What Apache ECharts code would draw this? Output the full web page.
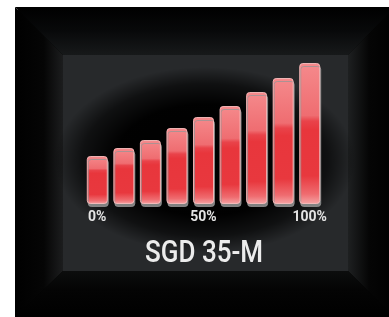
<!DOCTYPE html>
<html>
<head>
<meta charset="utf-8">
<script src="https://cdn.jsdelivr.net/npm/echarts@6/dist/echarts.min.js"></script>
<style>
  html, body { margin: 0; padding: 0; background: #fff; }
  #renderChart { width: 389px; height: 317px; }
</style>
</head>
<body>
<div id="renderChart"></div>
<script>
// levels shown on the display
const categories = ['0%', '12.5%', '25%', '37.5%', '50%', '62.5%', '75%', '87.5%', '100%'];
const barValues = [48, 56, 64, 76, 87, 98, 112, 126, 141];
const titleText = 'SGD 35-M';

const labelFont = 'Roboto, "DejaVu Sans", sans-serif';

const myChart = echarts.init(document.getElementById('renderChart'));

// red glossy fill, the gloss line sits a bit lower on the taller bars
function barFill(i) {
  const g = 0.3 + i * 0.014;
  return new echarts.graphic.LinearGradient(0, 0, 0, 1, [
    { offset: 0, color: '#f58a8c' },
    { offset: g - 0.04, color: '#ef6d71' },
    { offset: g, color: '#e9434a' },
    { offset: g + 0.06, color: '#e8363c' },
    { offset: 0.8, color: '#e8383e' },
    { offset: 0.93, color: '#ef6c70' },
    { offset: 1, color: '#f5a5a6' }
  ]);
}

const option = {
  backgroundColor: '#ffffff',
  animation: false,
  graphic: [
    // outer black case
    { type: 'rect', z: -10, shape: { x: 15, y: 7, width: 390, height: 320, r: 11 }, style: { fill: '#000' } },
    // left bevel
    { type: 'polygon', z: -9, shape: { points: [[15, 7], [63, 55], [63, 271], [15, 317]] },
      style: { fill: new echarts.graphic.LinearGradient(0, 0, 1, 0, [
        { offset: 0, color: '#000' }, { offset: 0.6, color: '#050505' }, { offset: 1, color: '#1c1d1e' }]) } },
    // top bevel
    { type: 'polygon', z: -9, shape: { points: [[15, 7], [395, 7], [348, 55], [63, 55]] },
      style: { fill: new echarts.graphic.LinearGradient(0, 0, 0, 1, [
        { offset: 0, color: '#000' }, { offset: 0.5, color: '#08090a' }, { offset: 1, color: '#17191a' }]) } },
    // right bevel
    { type: 'polygon', z: -9, shape: { points: [[395, 7], [395, 317], [348, 271], [348, 55]] },
      style: { fill: new echarts.graphic.LinearGradient(1, 0, 0, 0, [
        { offset: 0, color: '#000' }, { offset: 0.55, color: '#050505' }, { offset: 1, color: '#1e2021' }]) } },
    // bottom bevel
    { type: 'polygon', z: -9, shape: { points: [[15, 317], [63, 271], [348, 271], [395, 317]] },
      style: { fill: new echarts.graphic.LinearGradient(0, 1, 0, 0, [
        { offset: 0, color: '#000' }, { offset: 0.6, color: '#040404' }, { offset: 1, color: '#0c0d0d' }]) } },
    // screen
    { type: 'rect', z: -8, shape: { x: 63, y: 55, width: 285, height: 216 },
      style: { fill: '#27292b' } },
    // soft dark glow behind bars
    { type: 'circle', z: -7, shape: { cx: 205, cy: 160, r: 150 },
      scaleY: 0.62, originX: 205, originY: 160,
      style: { fill: new echarts.graphic.RadialGradient(0.5, 0.5, 0.5, [
        { offset: 0, color: 'rgba(0,0,0,1)' },
        { offset: 0.6, color: 'rgba(0,0,0,0.97)' },
        { offset: 0.82, color: 'rgba(0,0,0,0.6)' },
        { offset: 1, color: 'rgba(0,0,0,0)' }]) } },
    // title
    { type: 'text', z: 5, x: 204, y: 254, scaleX: 0.84, originX: 0, originY: 0,
      style: { text: titleText, fill: '#ececec', align: 'center', verticalAlign: 'middle',
        font: '500 31px ' + labelFont } }
  ],
  grid: { left: 84, right: 66, top: 54, bottom: 113 },
  xAxis: {
    type: 'category',
    data: categories,
    axisLine: { show: false },
    axisTick: { show: false },
    axisLabel: {
      interval: 3,
      margin: 6,
      color: '#e4e4e4',
      fontSize: 14,
      fontWeight: 'bold',
      fontFamily: labelFont
    }
  },
  yAxis: {
    type: 'value',
    min: 0,
    max: 150,
    show: false,
    splitLine: { show: false }
  },
  series: [{
    type: 'bar',
    data: barValues.map((v, i) => ({ value: v, itemStyle: { color: barFill(i) } })),
    barWidth: 21,
    itemStyle: {
      borderColor: 'rgba(250, 190, 190, 0.9)',
      borderWidth: 1,
      borderRadius: 3,
      shadowColor: 'rgba(150, 150, 150, 0.85)',
      shadowOffsetY: 3,
      shadowOffsetX: 1,
      shadowBlur: 0
    }
  }]
};

myChart.setOption(option);
</script>
</body>
</html>
